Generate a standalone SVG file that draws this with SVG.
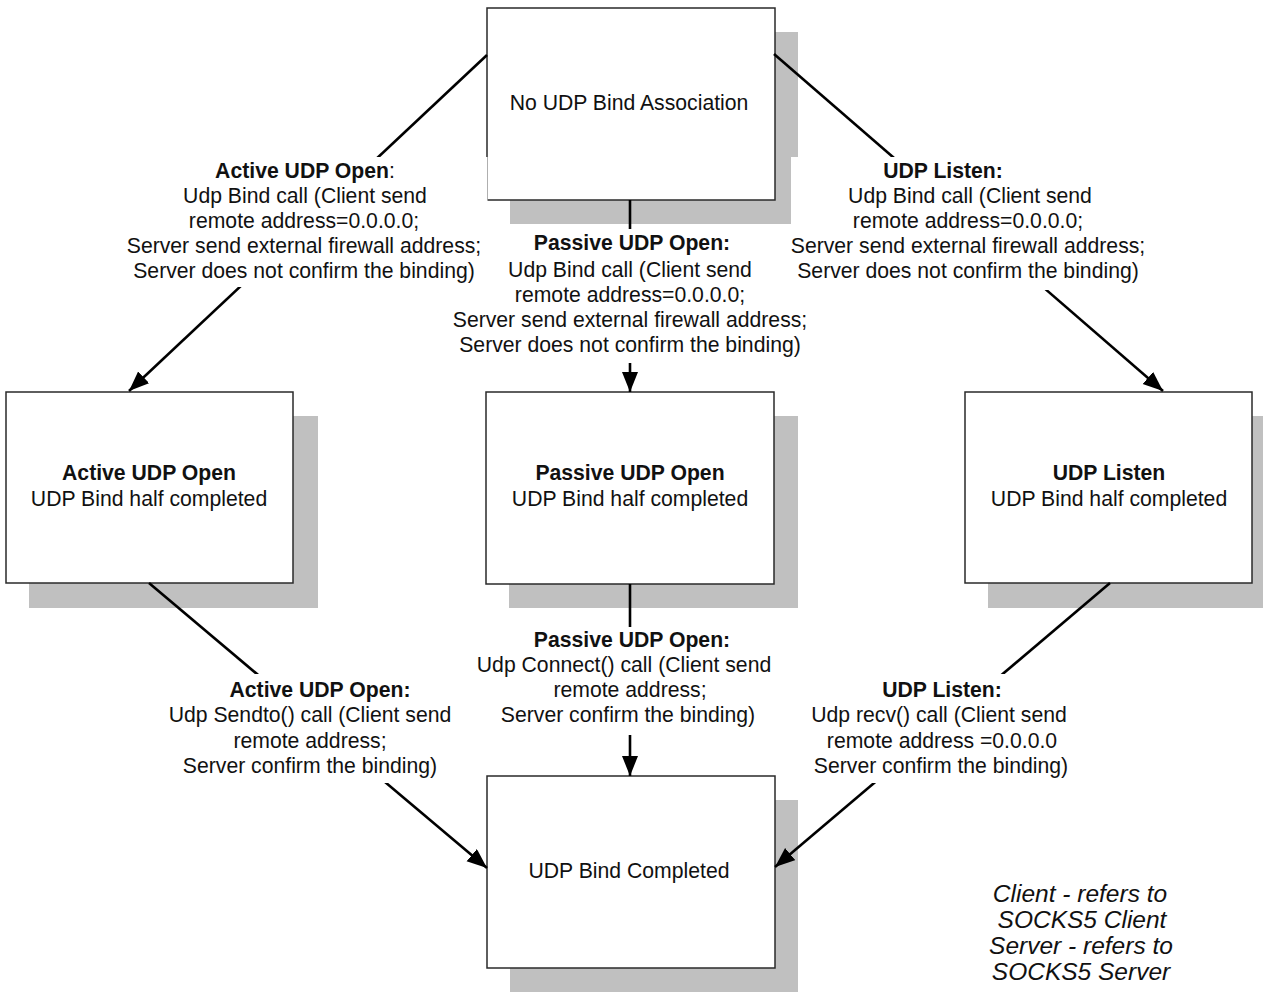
<svg xmlns="http://www.w3.org/2000/svg" width="1263" height="1002" viewBox="0 0 1263 1002">
  <style>
    .shadow { fill: #c0c0c0; }
    .box { fill: #ffffff; stroke: #2a2a2a; stroke-width: 1.5; }
    .conn { stroke: #000000; stroke-width: 2.6; fill: none; marker-end: url(#arrow); }
    .bg { fill: #ffffff; }
    text { font-family: "Liberation Sans", Arial, sans-serif; font-size: 21.2px; fill: #111111; text-anchor: middle; }
    .b { font-weight: bold; }
    .legend { font-size: 24.5px; font-style: italic; }
  </style>
  <defs>
    <marker id="arrow" markerUnits="userSpaceOnUse" markerWidth="24" markerHeight="18" refX="20" refY="8" orient="auto">
      <path d="M0,0 L20,8 L0,16 Z" fill="#000000"/>
    </marker>
  </defs>

  <!-- state boxes -->
  <g id="node-none">
    <rect class="shadow" x="510" y="32" width="288" height="192"/>
    <rect class="box" x="487" y="8" width="288" height="192"/>
    <text x="629" y="110">No UDP Bind Association</text>
  </g>
  <g id="node-active">
    <rect class="shadow" x="29" y="416" width="289" height="192"/>
    <rect class="box" x="6" y="392" width="287" height="191"/>
    <text class="b" x="149" y="480">Active UDP Open</text>
    <text x="149" y="506">UDP Bind half completed</text>
  </g>
  <g id="node-passive">
    <rect class="shadow" x="509" y="416" width="289" height="192"/>
    <rect class="box" x="486" y="392" width="288" height="192"/>
    <text class="b" x="630" y="480">Passive UDP Open</text>
    <text x="630" y="506">UDP Bind half completed</text>
  </g>
  <g id="node-listen">
    <rect class="shadow" x="988" y="416" width="288" height="192"/>
    <rect class="box" x="965" y="392" width="287" height="191"/>
    <text class="b" x="1109" y="480">UDP Listen</text>
    <text x="1109" y="506">UDP Bind half completed</text>
  </g>
  <g id="node-completed">
    <rect class="shadow" x="510" y="800" width="288" height="192"/>
    <rect class="box" x="487" y="776" width="288" height="192"/>
    <text x="629" y="878">UDP Bind Completed</text>
  </g>

  <!-- transitions -->
  <g id="connectors">
    <line class="conn" x1="487" y1="55" x2="129" y2="391"/>
    <line class="conn" x1="774" y1="54" x2="1163" y2="391"/>
    <line class="conn" x1="630" y1="200" x2="630" y2="392"/>
    <line class="conn" x1="149" y1="583" x2="487" y2="868"/>
    <line class="conn" x1="630" y1="584" x2="630" y2="776"/>
    <line class="conn" x1="1110" y1="583" x2="775" y2="867"/>
  </g>

  <!-- white backing behind the transition labels; it interrupts the lines -->
  <g id="label-backing">
    <rect class="bg" x="128" y="157" width="359.5" height="130"/>
    <rect class="bg" x="791" y="157" width="360" height="133"/>
    <rect class="bg" x="445" y="229" width="370" height="134"/>
    <rect class="bg" x="160" y="674" width="305" height="109"/>
    <rect class="bg" x="465" y="627" width="320" height="108"/>
    <rect class="bg" x="805" y="674" width="270" height="109"/>
  </g>

  <!-- transition labels -->
  <g id="label-active-open">
    <text x="305" y="178"><tspan class="b">Active UDP Open</tspan>:</text>
    <text x="305" y="203">Udp Bind call (Client send</text>
    <text x="304" y="228">remote address=0.0.0.0;</text>
    <text x="304" y="253">Server send external firewall address;</text>
    <text x="304" y="278">Server does not confirm the binding)</text>
  </g>
  <g id="label-listen">
    <text class="b" x="943" y="178">UDP Listen:</text>
    <text x="970" y="203">Udp Bind call (Client send</text>
    <text x="968" y="228">remote address=0.0.0.0;</text>
    <text x="968" y="253">Server send external firewall address;</text>
    <text x="968" y="278">Server does not confirm the binding)</text>
  </g>
  <g id="label-passive-open">
    <text class="b" x="632" y="250">Passive UDP Open:</text>
    <text x="630" y="277">Udp Bind call (Client send</text>
    <text x="630" y="302">remote address=0.0.0.0;</text>
    <text x="630" y="327">Server send external firewall address;</text>
    <text x="630" y="352">Server does not confirm the binding)</text>
  </g>
  <g id="label-active-sendto">
    <text class="b" x="320" y="697">Active UDP Open:</text>
    <text x="310" y="722">Udp Sendto() call (Client send</text>
    <text x="310" y="748">remote address;</text>
    <text x="310" y="773">Server confirm the binding)</text>
  </g>
  <g id="label-passive-connect">
    <text class="b" x="632" y="647">Passive UDP Open:</text>
    <text x="624" y="672">Udp Connect() call (Client send</text>
    <text x="630" y="697">remote address;</text>
    <text x="628" y="722">Server confirm the binding)</text>
  </g>
  <g id="label-listen-recv">
    <text class="b" x="942" y="697">UDP Listen:</text>
    <text x="939" y="722">Udp recv() call (Client send</text>
    <text x="942" y="748">remote address =0.0.0.0</text>
    <text x="941" y="773">Server confirm the binding)</text>
  </g>

  <!-- legend -->
  <g id="legend">
    <text class="legend" x="1080" y="902">Client - refers to</text>
    <text class="legend" x="1082" y="928">SOCKS5 Client</text>
    <text class="legend" x="1081" y="954">Server - refers to</text>
    <text class="legend" x="1081" y="980">SOCKS5 Server</text>
  </g>
</svg>
